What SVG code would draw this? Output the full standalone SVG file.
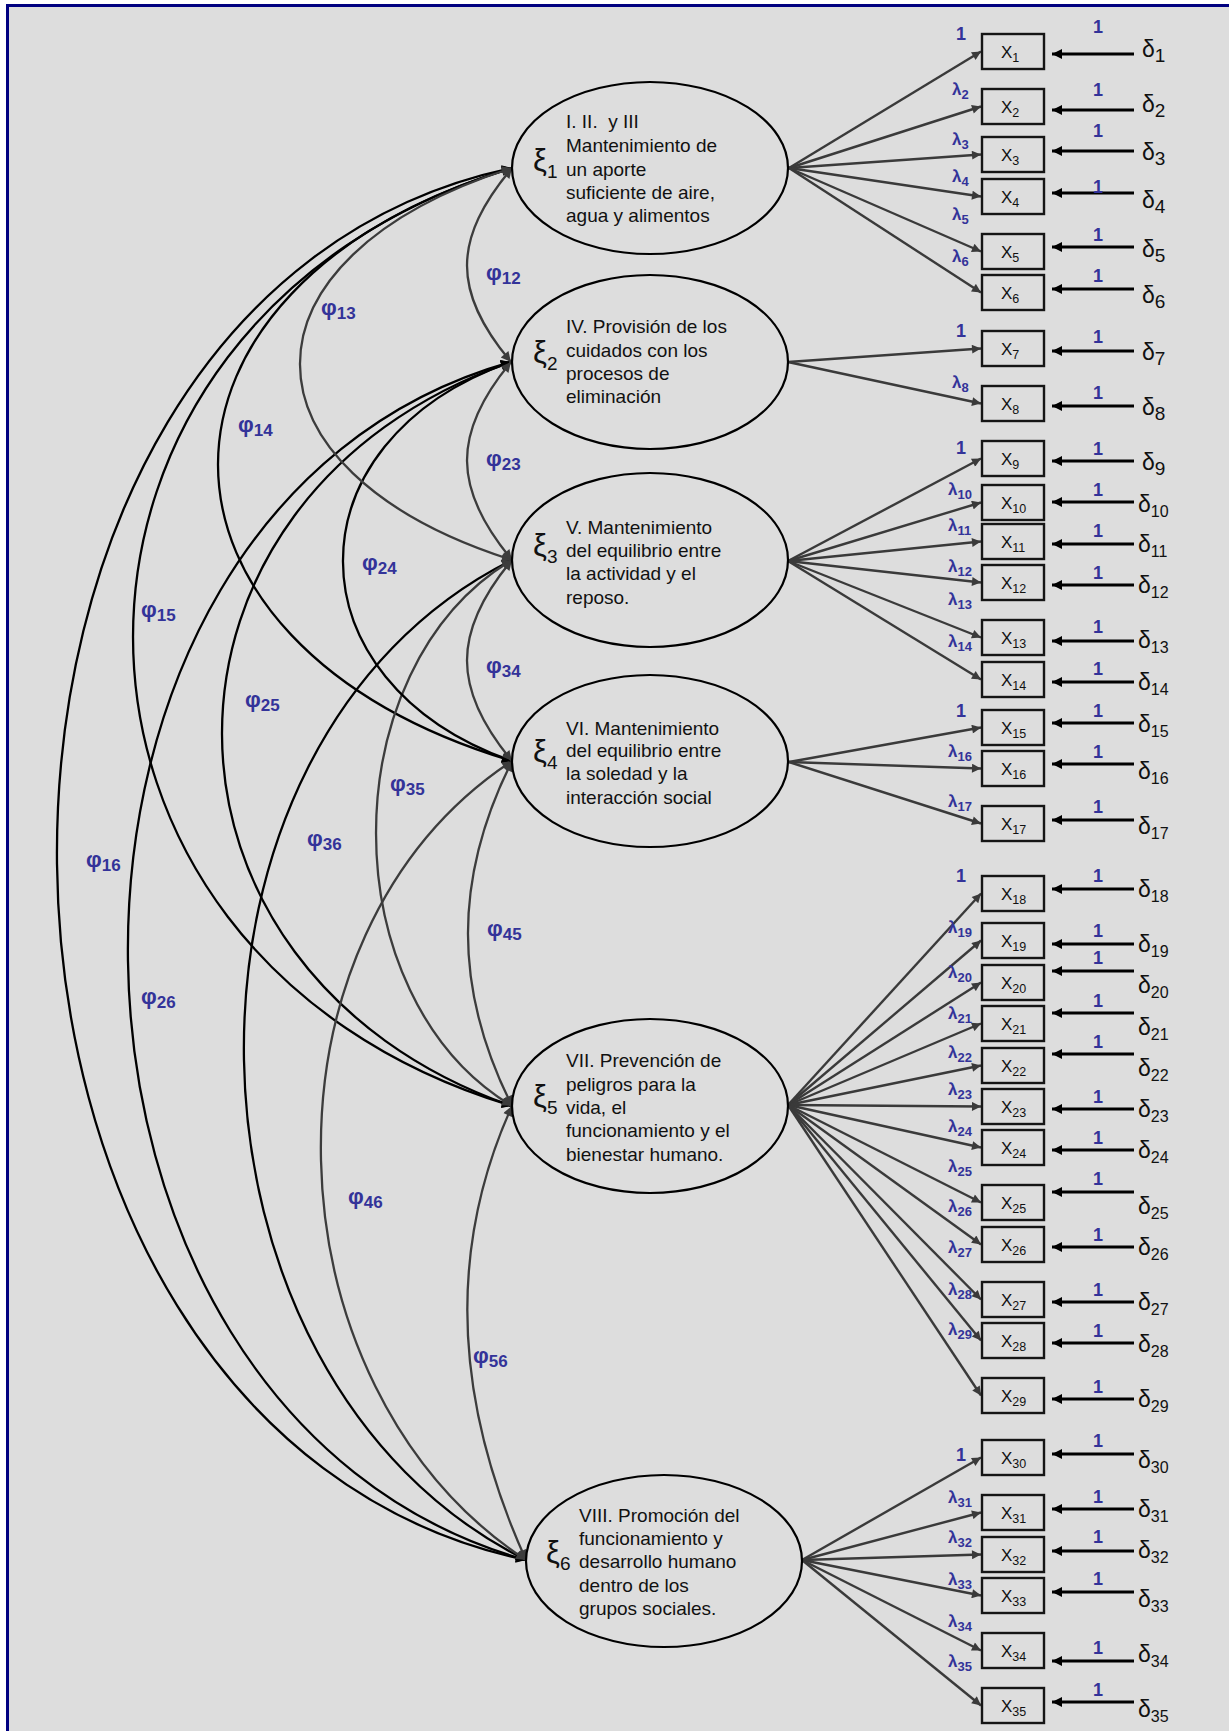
<svg xmlns="http://www.w3.org/2000/svg" width="1229" height="1731" viewBox="0 0 1229 1731">
<defs>
<style>
text{font-family:"Liberation Sans",Arial,sans-serif}
.ell{fill:#DDDDDD;stroke:#000;stroke-width:2.2}
.et{font-size:19px;fill:#111}
.xi{font-size:31px;fill:#111}
.xis{font-size:19px}
.box{fill:#DDDDDD;stroke:#151515;stroke-width:2.4}
.xl{font-size:17px;fill:#111}
.xs{font-size:12.5px}
.dl{font-size:23px;fill:#111}
.ds1{font-size:19px}
.ds2{font-size:16px}
.lab{font-weight:bold;fill:#333399}
.one{font-size:18px}
.lam{font-size:17px}
.lams{font-size:13px}
.phi{font-size:22px}
.phis{font-size:17px}
.load{stroke:#3a3a3a;stroke-width:2.4;fill:none;marker-end:url(#ah)}
.err{stroke:#000;stroke-width:3;marker-end:url(#ahe)}
.cov{fill:none;stroke-width:2.3}
.g{stroke:#3c3c3c;marker-start:url(#ahg);marker-end:url(#ahg)}
.k{stroke:#000;marker-start:url(#ahk);marker-end:url(#ahk)}
</style>
<marker id="ah" viewBox="0 0 10 10" refX="10" refY="5" markerWidth="11" markerHeight="9" markerUnits="userSpaceOnUse" orient="auto"><path d="M0,0 L10,5 L0,10 z" fill="#3a3a3a"/></marker>
<marker id="ahe" viewBox="0 0 10 10" refX="10" refY="5" markerWidth="10" markerHeight="10" markerUnits="userSpaceOnUse" orient="auto"><path d="M0,0 L10,5 L0,10 z" fill="#000"/></marker>
<marker id="ahg" viewBox="0 0 10 10" refX="10" refY="5" markerWidth="12" markerHeight="10" markerUnits="userSpaceOnUse" orient="auto-start-reverse"><path d="M0,0 L10,5 L0,10 z" fill="#3c3c3c"/></marker>
<marker id="ahk" viewBox="0 0 10 10" refX="10" refY="5" markerWidth="12" markerHeight="10" markerUnits="userSpaceOnUse" orient="auto-start-reverse"><path d="M0,0 L10,5 L0,10 z" fill="#000"/></marker>
</defs>
<rect x="0" y="0" width="1229" height="1731" fill="#fff"/>
<rect x="7.5" y="5.5" width="1240" height="1740" fill="#DDDDDD" stroke="#000080" stroke-width="3"/>

<g id="connectors">
<g id="covariances">
<path id="phi16" class="cov k" d="M512,168 C-104,298 -90,1430 526,1560"/>
<path id="phi26" class="cov k" d="M511,362 C-9.7,508 5.3,1414 526,1560"/>
<path id="phi15" class="cov k" d="M512,168 C6.7,320 6.7,954 512,1106"/>
<path id="phi36" class="cov k" d="M512,560 C145.3,743 159.3,1377 526,1560"/>
<path id="phi25" class="cov k" d="M511,362 C125,497 126,971 512,1106"/>
<path id="phi14" class="cov k" d="M512,168 C120,286 120,643 512,761"/>
<path id="phi46" class="cov g" d="M512,761 C248,935 262,1386 526,1560"/>
<path id="phi35" class="cov g" d="M512,560 C330.7,669 330.7,997 512,1106"/>
<path id="phi24" class="cov k" d="M511,362 C286.3,441 287.3,682 512,761"/>
<path id="phi13" class="cov g" d="M512,168 C229.3,258 229.3,470 512,560"/>
<path id="phi12" class="cov g" d="M512,168 C452.7,239 451.7,291 511,362"/>
<path id="phi23" class="cov g" d="M511,362 C451.7,433 452.7,489 512,560"/>
<path id="phi34" class="cov g" d="M512,560 C452,632 452,689 512,761"/>
<path id="phi45" class="cov g" d="M512,761 C453.3,878 453.3,989 512,1106"/>
<path id="phi56" class="cov g" d="M512,1106 C444,1256 458,1410 526,1560"/>
</g>
<g id="phi-labels" class="lab phi">
<text x="486" y="280">φ<tspan class="phis" dy="4">12</tspan></text>
<text x="321" y="315">φ<tspan class="phis" dy="4">13</tspan></text>
<text x="238" y="432">φ<tspan class="phis" dy="4">14</tspan></text>
<text x="141" y="617">φ<tspan class="phis" dy="4">15</tspan></text>
<text x="486" y="466">φ<tspan class="phis" dy="4">23</tspan></text>
<text x="362" y="570">φ<tspan class="phis" dy="4">24</tspan></text>
<text x="245" y="707">φ<tspan class="phis" dy="4">25</tspan></text>
<text x="486" y="673">φ<tspan class="phis" dy="4">34</tspan></text>
<text x="390" y="791">φ<tspan class="phis" dy="4">35</tspan></text>
<text x="307" y="846">φ<tspan class="phis" dy="4">36</tspan></text>
<text x="86" y="867">φ<tspan class="phis" dy="4">16</tspan></text>
<text x="487" y="936">φ<tspan class="phis" dy="4">45</tspan></text>
<text x="141" y="1004">φ<tspan class="phis" dy="4">26</tspan></text>
<text x="348" y="1204">φ<tspan class="phis" dy="4">46</tspan></text>
<text x="473" y="1363">φ<tspan class="phis" dy="4">56</tspan></text>
</g>

<g id="loadings">
<line class="load" x1="789" y1="168" x2="981" y2="51.5"/>
<line class="load" x1="789" y1="168" x2="981" y2="106.5"/>
<line class="load" x1="789" y1="168" x2="981" y2="154.5"/>
<line class="load" x1="789" y1="168" x2="981" y2="196.5"/>
<line class="load" x1="789" y1="168" x2="981" y2="251.5"/>
<line class="load" x1="789" y1="168" x2="981" y2="292.5"/>
<line class="load" x1="788" y1="362" x2="981" y2="348.5"/>
<line class="load" x1="788" y1="362" x2="981" y2="403.5"/>
<line class="load" x1="788" y1="561" x2="981" y2="458.5"/>
<line class="load" x1="788" y1="561" x2="981" y2="502.5"/>
<line class="load" x1="788" y1="561" x2="981" y2="541.5"/>
<line class="load" x1="788" y1="561" x2="981" y2="582.5"/>
<line class="load" x1="788" y1="561" x2="981" y2="637.5"/>
<line class="load" x1="788" y1="561" x2="981" y2="679.5"/>
<line class="load" x1="789" y1="762" x2="981" y2="727.5"/>
<line class="load" x1="789" y1="762" x2="981" y2="768.5"/>
<line class="load" x1="789" y1="762" x2="981" y2="823.5"/>
<line class="load" x1="788" y1="1105" x2="981" y2="893.5"/>
<line class="load" x1="788" y1="1105" x2="981" y2="940.5"/>
<line class="load" x1="788" y1="1105" x2="981" y2="982.5"/>
<line class="load" x1="788" y1="1105" x2="981" y2="1023.5"/>
<line class="load" x1="788" y1="1105" x2="981" y2="1065.5"/>
<line class="load" x1="788" y1="1105" x2="981" y2="1106.5"/>
<line class="load" x1="788" y1="1105" x2="981" y2="1147.5"/>
<line class="load" x1="788" y1="1105" x2="981" y2="1202.5"/>
<line class="load" x1="788" y1="1105" x2="981" y2="1244.5"/>
<line class="load" x1="788" y1="1105" x2="981" y2="1299.5"/>
<line class="load" x1="788" y1="1105" x2="981" y2="1340.5"/>
<line class="load" x1="788" y1="1105" x2="981" y2="1395.5"/>
<line class="load" x1="802" y1="1560" x2="981" y2="1457.5"/>
<line class="load" x1="802" y1="1560" x2="981" y2="1512.5"/>
<line class="load" x1="802" y1="1560" x2="981" y2="1554.5"/>
<line class="load" x1="802" y1="1560" x2="981" y2="1595.5"/>
<line class="load" x1="802" y1="1560" x2="981" y2="1650.5"/>
<line class="load" x1="802" y1="1560" x2="981" y2="1705.5"/>
</g>
<g id="loading-labels" class="lab">
<text class="one" x="956" y="40">1</text>
<text class="lam" x="952" y="95">λ<tspan class="lams" dy="4">2</tspan></text>
<text class="lam" x="952" y="145">λ<tspan class="lams" dy="4">3</tspan></text>
<text class="lam" x="952" y="182">λ<tspan class="lams" dy="4">4</tspan></text>
<text class="lam" x="952" y="220">λ<tspan class="lams" dy="4">5</tspan></text>
<text class="lam" x="952" y="262">λ<tspan class="lams" dy="4">6</tspan></text>
<text class="one" x="956" y="337">1</text>
<text class="lam" x="952" y="388">λ<tspan class="lams" dy="4">8</tspan></text>
<text class="one" x="956" y="454">1</text>
<text class="lam" x="948" y="495">λ<tspan class="lams" dy="4">10</tspan></text>
<text class="lam" x="948" y="531">λ<tspan class="lams" dy="4">11</tspan></text>
<text class="lam" x="948" y="572">λ<tspan class="lams" dy="4">12</tspan></text>
<text class="lam" x="948" y="605">λ<tspan class="lams" dy="4">13</tspan></text>
<text class="lam" x="948" y="647">λ<tspan class="lams" dy="4">14</tspan></text>
<text class="one" x="956" y="717">1</text>
<text class="lam" x="948" y="757">λ<tspan class="lams" dy="4">16</tspan></text>
<text class="lam" x="948" y="807">λ<tspan class="lams" dy="4">17</tspan></text>
<text class="one" x="956" y="882">1</text>
<text class="lam" x="948" y="933">λ<tspan class="lams" dy="4">19</tspan></text>
<text class="lam" x="948" y="978">λ<tspan class="lams" dy="4">20</tspan></text>
<text class="lam" x="948" y="1019">λ<tspan class="lams" dy="4">21</tspan></text>
<text class="lam" x="948" y="1058">λ<tspan class="lams" dy="4">22</tspan></text>
<text class="lam" x="948" y="1095">λ<tspan class="lams" dy="4">23</tspan></text>
<text class="lam" x="948" y="1132">λ<tspan class="lams" dy="4">24</tspan></text>
<text class="lam" x="948" y="1172">λ<tspan class="lams" dy="4">25</tspan></text>
<text class="lam" x="948" y="1212">λ<tspan class="lams" dy="4">26</tspan></text>
<text class="lam" x="948" y="1253">λ<tspan class="lams" dy="4">27</tspan></text>
<text class="lam" x="948" y="1295">λ<tspan class="lams" dy="4">28</tspan></text>
<text class="lam" x="948" y="1335">λ<tspan class="lams" dy="4">29</tspan></text>
<text class="one" x="956" y="1461">1</text>
<text class="lam" x="948" y="1503">λ<tspan class="lams" dy="4">31</tspan></text>
<text class="lam" x="948" y="1543">λ<tspan class="lams" dy="4">32</tspan></text>
<text class="lam" x="948" y="1585">λ<tspan class="lams" dy="4">33</tspan></text>
<text class="lam" x="948" y="1627">λ<tspan class="lams" dy="4">34</tspan></text>
<text class="lam" x="948" y="1667">λ<tspan class="lams" dy="4">35</tspan></text>
</g>

<g id="errors">
<line class="err" x1="1134" y1="54" x2="1052" y2="54"/>
<line class="err" x1="1134" y1="110" x2="1052" y2="110"/>
<line class="err" x1="1134" y1="151" x2="1052" y2="151"/>
<line class="err" x1="1134" y1="193" x2="1052" y2="193"/>
<line class="err" x1="1134" y1="247" x2="1052" y2="247"/>
<line class="err" x1="1134" y1="289" x2="1052" y2="289"/>
<line class="err" x1="1134" y1="351" x2="1052" y2="351"/>
<line class="err" x1="1134" y1="406" x2="1052" y2="406"/>
<line class="err" x1="1134" y1="461" x2="1052" y2="461"/>
<line class="err" x1="1134" y1="502" x2="1052" y2="502"/>
<line class="err" x1="1134" y1="544" x2="1052" y2="544"/>
<line class="err" x1="1134" y1="585" x2="1052" y2="585"/>
<line class="err" x1="1134" y1="641" x2="1052" y2="641"/>
<line class="err" x1="1134" y1="682" x2="1052" y2="682"/>
<line class="err" x1="1134" y1="723" x2="1052" y2="723"/>
<line class="err" x1="1134" y1="764" x2="1052" y2="764"/>
<line class="err" x1="1134" y1="820" x2="1052" y2="820"/>
<line class="err" x1="1134" y1="889" x2="1052" y2="889"/>
<line class="err" x1="1134" y1="944" x2="1052" y2="944"/>
<line class="err" x1="1134" y1="971" x2="1052" y2="971"/>
<line class="err" x1="1134" y1="1013" x2="1052" y2="1013"/>
<line class="err" x1="1134" y1="1054" x2="1052" y2="1054"/>
<line class="err" x1="1134" y1="1109" x2="1052" y2="1109"/>
<line class="err" x1="1134" y1="1150" x2="1052" y2="1150"/>
<line class="err" x1="1134" y1="1192" x2="1052" y2="1192"/>
<line class="err" x1="1134" y1="1247" x2="1052" y2="1247"/>
<line class="err" x1="1134" y1="1302" x2="1052" y2="1302"/>
<line class="err" x1="1134" y1="1343" x2="1052" y2="1343"/>
<line class="err" x1="1134" y1="1399" x2="1052" y2="1399"/>
<line class="err" x1="1134" y1="1454" x2="1052" y2="1454"/>
<line class="err" x1="1134" y1="1509" x2="1052" y2="1509"/>
<line class="err" x1="1134" y1="1551" x2="1052" y2="1551"/>
<line class="err" x1="1134" y1="1592" x2="1052" y2="1592"/>
<line class="err" x1="1134" y1="1661" x2="1052" y2="1661"/>
<line class="err" x1="1134" y1="1702" x2="1052" y2="1702"/>
</g>
<g id="error-labels" class="lab one">
<text x="1093" y="33">1</text><text x="1093" y="96">1</text><text x="1093" y="137">1</text><text x="1093" y="193">1</text><text x="1093" y="241">1</text><text x="1093" y="282">1</text>
<text x="1093" y="343">1</text><text x="1093" y="399">1</text><text x="1093" y="455">1</text><text x="1093" y="496">1</text><text x="1093" y="537">1</text><text x="1093" y="579">1</text>
<text x="1093" y="633">1</text><text x="1093" y="675">1</text><text x="1093" y="717">1</text><text x="1093" y="758">1</text><text x="1093" y="813">1</text><text x="1093" y="882">1</text>
<text x="1093" y="937">1</text><text x="1093" y="964">1</text><text x="1093" y="1007">1</text><text x="1093" y="1048">1</text><text x="1093" y="1103">1</text><text x="1093" y="1144">1</text>
<text x="1093" y="1185">1</text><text x="1093" y="1241">1</text><text x="1093" y="1296">1</text><text x="1093" y="1337">1</text><text x="1093" y="1393">1</text><text x="1093" y="1447">1</text>
<text x="1093" y="1503">1</text><text x="1093" y="1543">1</text><text x="1093" y="1585">1</text><text x="1093" y="1654">1</text><text x="1093" y="1696">1</text>
</g>
</g>

<g id="latents">
<g id="xi1"><ellipse class="ell" cx="650" cy="168" rx="138" ry="86"/>
<text class="xi" x="533" y="171">ξ<tspan class="xis" dy="7">1</tspan></text>
<text class="et"><tspan x="566" y="128">I. II.&#160; y III</tspan><tspan x="566" y="152">Mantenimiento de</tspan><tspan x="566" y="176">un aporte</tspan><tspan x="566" y="199">suficiente de aire,</tspan><tspan x="566" y="222">agua y alimentos</tspan></text></g>
<g id="xi2"><ellipse class="ell" cx="650" cy="362" rx="138" ry="87"/>
<text class="xi" x="533" y="363">ξ<tspan class="xis" dy="7">2</tspan></text>
<text class="et"><tspan x="566" y="333">IV. Provisión de los</tspan><tspan x="566" y="357">cuidados con los</tspan><tspan x="566" y="380">procesos de</tspan><tspan x="566" y="403">eliminación</tspan></text></g>
<g id="xi3"><ellipse class="ell" cx="650" cy="560" rx="138" ry="87"/>
<text class="xi" x="533" y="556">ξ<tspan class="xis" dy="7">3</tspan></text>
<text class="et"><tspan x="566" y="534">V. Mantenimiento</tspan><tspan x="566" y="557">del equilibrio entre</tspan><tspan x="566" y="580">la actividad y el</tspan><tspan x="566" y="604">reposo.</tspan></text></g>
<g id="xi4"><ellipse class="ell" cx="650" cy="761" rx="138" ry="86"/>
<text class="xi" x="533" y="762">ξ<tspan class="xis" dy="7">4</tspan></text>
<text class="et"><tspan x="566" y="735">VI. Mantenimiento</tspan><tspan x="566" y="757">del equilibrio entre</tspan><tspan x="566" y="780">la soledad y la</tspan><tspan x="566" y="804">interacción social</tspan></text></g>
<g id="xi5"><ellipse class="ell" cx="650" cy="1106" rx="138" ry="87"/>
<text class="xi" x="533" y="1107">ξ<tspan class="xis" dy="7">5</tspan></text>
<text class="et"><tspan x="566" y="1067">VII. Prevención de</tspan><tspan x="566" y="1091">peligros para la</tspan><tspan x="566" y="1114">vida, el</tspan><tspan x="566" y="1137">funcionamiento y el</tspan><tspan x="566" y="1161">bienestar humano.</tspan></text></g>
<g id="xi6"><ellipse class="ell" cx="664" cy="1561" rx="138" ry="86"/>
<text class="xi" x="546" y="1563">ξ<tspan class="xis" dy="7">6</tspan></text>
<text class="et"><tspan x="579" y="1522">VIII. Promoción del</tspan><tspan x="579" y="1545">funcionamiento y</tspan><tspan x="579" y="1568">desarrollo humano</tspan><tspan x="579" y="1592">dentro de los</tspan><tspan x="579" y="1615">grupos sociales.</tspan></text></g>
</g>

<g id="indicators">
<g id="x1"><rect class="box" x="982" y="34" width="62" height="35"/><text class="xl" x="1001" y="58">X<tspan class="xs" dy="4">1</tspan></text></g>
<g id="x2"><rect class="box" x="982" y="89" width="62" height="35"/><text class="xl" x="1001" y="113">X<tspan class="xs" dy="4">2</tspan></text></g>
<g id="x3"><rect class="box" x="982" y="137" width="62" height="35"/><text class="xl" x="1001" y="161">X<tspan class="xs" dy="4">3</tspan></text></g>
<g id="x4"><rect class="box" x="982" y="179" width="62" height="35"/><text class="xl" x="1001" y="203">X<tspan class="xs" dy="4">4</tspan></text></g>
<g id="x5"><rect class="box" x="982" y="234" width="62" height="35"/><text class="xl" x="1001" y="258">X<tspan class="xs" dy="4">5</tspan></text></g>
<g id="x6"><rect class="box" x="982" y="275" width="62" height="35"/><text class="xl" x="1001" y="299">X<tspan class="xs" dy="4">6</tspan></text></g>
<g id="x7"><rect class="box" x="982" y="331" width="62" height="35"/><text class="xl" x="1001" y="355">X<tspan class="xs" dy="4">7</tspan></text></g>
<g id="x8"><rect class="box" x="982" y="386" width="62" height="35"/><text class="xl" x="1001" y="410">X<tspan class="xs" dy="4">8</tspan></text></g>
<g id="x9"><rect class="box" x="982" y="441" width="62" height="35"/><text class="xl" x="1001" y="465">X<tspan class="xs" dy="4">9</tspan></text></g>
<g id="x10"><rect class="box" x="982" y="485" width="62" height="35"/><text class="xl" x="1001" y="509">X<tspan class="xs" dy="4">10</tspan></text></g>
<g id="x11"><rect class="box" x="982" y="524" width="62" height="35"/><text class="xl" x="1001" y="548">X<tspan class="xs" dy="4">11</tspan></text></g>
<g id="x12"><rect class="box" x="982" y="565" width="62" height="35"/><text class="xl" x="1001" y="589">X<tspan class="xs" dy="4">12</tspan></text></g>
<g id="x13"><rect class="box" x="982" y="620" width="62" height="35"/><text class="xl" x="1001" y="644">X<tspan class="xs" dy="4">13</tspan></text></g>
<g id="x14"><rect class="box" x="982" y="662" width="62" height="35"/><text class="xl" x="1001" y="686">X<tspan class="xs" dy="4">14</tspan></text></g>
<g id="x15"><rect class="box" x="982" y="710" width="62" height="35"/><text class="xl" x="1001" y="734">X<tspan class="xs" dy="4">15</tspan></text></g>
<g id="x16"><rect class="box" x="982" y="751" width="62" height="35"/><text class="xl" x="1001" y="775">X<tspan class="xs" dy="4">16</tspan></text></g>
<g id="x17"><rect class="box" x="982" y="806" width="62" height="35"/><text class="xl" x="1001" y="830">X<tspan class="xs" dy="4">17</tspan></text></g>
<g id="x18"><rect class="box" x="982" y="876" width="62" height="35"/><text class="xl" x="1001" y="900">X<tspan class="xs" dy="4">18</tspan></text></g>
<g id="x19"><rect class="box" x="982" y="923" width="62" height="35"/><text class="xl" x="1001" y="947">X<tspan class="xs" dy="4">19</tspan></text></g>
<g id="x20"><rect class="box" x="982" y="965" width="62" height="35"/><text class="xl" x="1001" y="989">X<tspan class="xs" dy="4">20</tspan></text></g>
<g id="x21"><rect class="box" x="982" y="1006" width="62" height="35"/><text class="xl" x="1001" y="1030">X<tspan class="xs" dy="4">21</tspan></text></g>
<g id="x22"><rect class="box" x="982" y="1048" width="62" height="35"/><text class="xl" x="1001" y="1072">X<tspan class="xs" dy="4">22</tspan></text></g>
<g id="x23"><rect class="box" x="982" y="1089" width="62" height="35"/><text class="xl" x="1001" y="1113">X<tspan class="xs" dy="4">23</tspan></text></g>
<g id="x24"><rect class="box" x="982" y="1130" width="62" height="35"/><text class="xl" x="1001" y="1154">X<tspan class="xs" dy="4">24</tspan></text></g>
<g id="x25"><rect class="box" x="982" y="1185" width="62" height="35"/><text class="xl" x="1001" y="1209">X<tspan class="xs" dy="4">25</tspan></text></g>
<g id="x26"><rect class="box" x="982" y="1227" width="62" height="35"/><text class="xl" x="1001" y="1251">X<tspan class="xs" dy="4">26</tspan></text></g>
<g id="x27"><rect class="box" x="982" y="1282" width="62" height="35"/><text class="xl" x="1001" y="1306">X<tspan class="xs" dy="4">27</tspan></text></g>
<g id="x28"><rect class="box" x="982" y="1323" width="62" height="35"/><text class="xl" x="1001" y="1347">X<tspan class="xs" dy="4">28</tspan></text></g>
<g id="x29"><rect class="box" x="982" y="1378" width="62" height="35"/><text class="xl" x="1001" y="1402">X<tspan class="xs" dy="4">29</tspan></text></g>
<g id="x30"><rect class="box" x="982" y="1440" width="62" height="35"/><text class="xl" x="1001" y="1464">X<tspan class="xs" dy="4">30</tspan></text></g>
<g id="x31"><rect class="box" x="982" y="1495" width="62" height="35"/><text class="xl" x="1001" y="1519">X<tspan class="xs" dy="4">31</tspan></text></g>
<g id="x32"><rect class="box" x="982" y="1537" width="62" height="35"/><text class="xl" x="1001" y="1561">X<tspan class="xs" dy="4">32</tspan></text></g>
<g id="x33"><rect class="box" x="982" y="1578" width="62" height="35"/><text class="xl" x="1001" y="1602">X<tspan class="xs" dy="4">33</tspan></text></g>
<g id="x34"><rect class="box" x="982" y="1633" width="62" height="35"/><text class="xl" x="1001" y="1657">X<tspan class="xs" dy="4">34</tspan></text></g>
<g id="x35"><rect class="box" x="982" y="1688" width="62" height="35"/><text class="xl" x="1001" y="1712">X<tspan class="xs" dy="4">35</tspan></text></g>
</g>

<g id="error-terms" class="dl">
<g id="d1"><text x="1142" y="57">δ<tspan class="ds1" dy="5">1</tspan></text></g>
<g id="d2"><text x="1142" y="112">δ<tspan class="ds1" dy="5">2</tspan></text></g>
<g id="d3"><text x="1142" y="160">δ<tspan class="ds1" dy="5">3</tspan></text></g>
<g id="d4"><text x="1142" y="208">δ<tspan class="ds1" dy="5">4</tspan></text></g>
<g id="d5"><text x="1142" y="257">δ<tspan class="ds1" dy="5">5</tspan></text></g>
<g id="d6"><text x="1142" y="303">δ<tspan class="ds1" dy="5">6</tspan></text></g>
<g id="d7"><text x="1142" y="360">δ<tspan class="ds1" dy="5">7</tspan></text></g>
<g id="d8"><text x="1142" y="415">δ<tspan class="ds1" dy="5">8</tspan></text></g>
<g id="d9"><text x="1142" y="470">δ<tspan class="ds1" dy="5">9</tspan></text></g>
<g id="d10"><text x="1138" y="512">δ<tspan class="ds2" dy="5">10</tspan></text></g>
<g id="d11"><text x="1138" y="552">δ<tspan class="ds2" dy="5">11</tspan></text></g>
<g id="d12"><text x="1138" y="593">δ<tspan class="ds2" dy="5">12</tspan></text></g>
<g id="d13"><text x="1138" y="648">δ<tspan class="ds2" dy="5">13</tspan></text></g>
<g id="d14"><text x="1138" y="690">δ<tspan class="ds2" dy="5">14</tspan></text></g>
<g id="d15"><text x="1138" y="732">δ<tspan class="ds2" dy="5">15</tspan></text></g>
<g id="d16"><text x="1138" y="779">δ<tspan class="ds2" dy="5">16</tspan></text></g>
<g id="d17"><text x="1138" y="834">δ<tspan class="ds2" dy="5">17</tspan></text></g>
<g id="d18"><text x="1138" y="897">δ<tspan class="ds2" dy="5">18</tspan></text></g>
<g id="d19"><text x="1138" y="952">δ<tspan class="ds2" dy="5">19</tspan></text></g>
<g id="d20"><text x="1138" y="993">δ<tspan class="ds2" dy="5">20</tspan></text></g>
<g id="d21"><text x="1138" y="1035">δ<tspan class="ds2" dy="5">21</tspan></text></g>
<g id="d22"><text x="1138" y="1076">δ<tspan class="ds2" dy="5">22</tspan></text></g>
<g id="d23"><text x="1138" y="1117">δ<tspan class="ds2" dy="5">23</tspan></text></g>
<g id="d24"><text x="1138" y="1158">δ<tspan class="ds2" dy="5">24</tspan></text></g>
<g id="d25"><text x="1138" y="1214">δ<tspan class="ds2" dy="5">25</tspan></text></g>
<g id="d26"><text x="1138" y="1255">δ<tspan class="ds2" dy="5">26</tspan></text></g>
<g id="d27"><text x="1138" y="1310">δ<tspan class="ds2" dy="5">27</tspan></text></g>
<g id="d28"><text x="1138" y="1352">δ<tspan class="ds2" dy="5">28</tspan></text></g>
<g id="d29"><text x="1138" y="1407">δ<tspan class="ds2" dy="5">29</tspan></text></g>
<g id="d30"><text x="1138" y="1468">δ<tspan class="ds2" dy="5">30</tspan></text></g>
<g id="d31"><text x="1138" y="1517">δ<tspan class="ds2" dy="5">31</tspan></text></g>
<g id="d32"><text x="1138" y="1558">δ<tspan class="ds2" dy="5">32</tspan></text></g>
<g id="d33"><text x="1138" y="1607">δ<tspan class="ds2" dy="5">33</tspan></text></g>
<g id="d34"><text x="1138" y="1662">δ<tspan class="ds2" dy="5">34</tspan></text></g>
<g id="d35"><text x="1138" y="1717">δ<tspan class="ds2" dy="5">35</tspan></text></g>
</g>
</svg>
